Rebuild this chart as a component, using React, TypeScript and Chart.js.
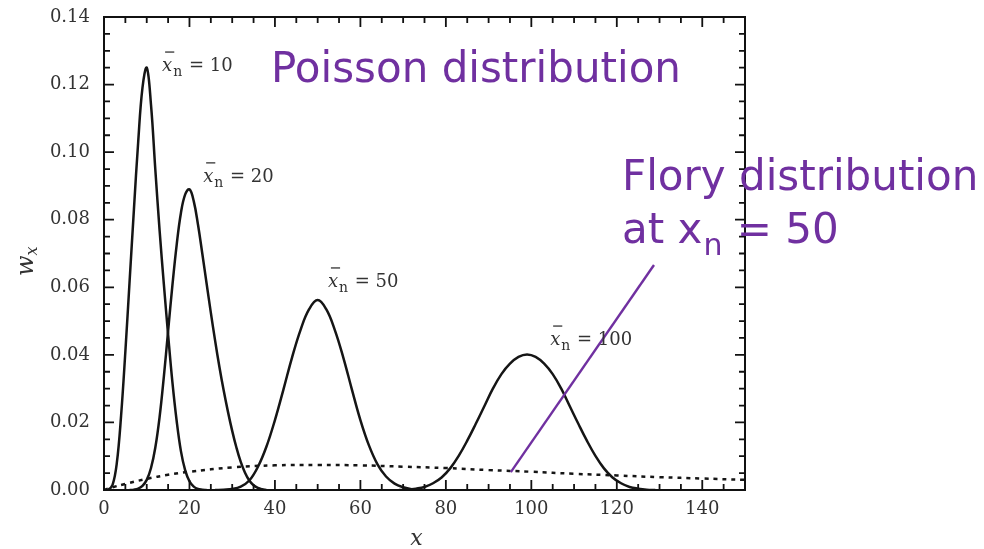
import React, { useEffect, useRef } from 'react';
import { Chart, registerables } from 'chart.js';

Chart.register(...registerables);

// ---- axes ----
const X_MIN = 0;
const X_MAX = 150;
const Y_MIN = 0;
const Y_MAX = 0.14;
const xTickValues = [0, 20, 40, 60, 80, 100, 120, 140];
const yTickValues = [0, 0.02, 0.04, 0.06, 0.08, 0.1, 0.12, 0.14];
const xMinorStep = 5;
const yMinorStep = 0.005;

// ---- Poisson weight distributions ----
const poisson10X = [0, 1, 2, 3, 4, 5, 6, 7, 8, 9, 10, 11, 12, 13, 14, 15, 16, 17, 18, 19, 20, 21, 22, 23, 24];
const poisson10Y = [0, 0.0001, 0.0015, 0.008, 0.022, 0.041, 0.062, 0.083, 0.103, 0.119, 0.125, 0.114, 0.095, 0.077, 0.061, 0.046, 0.032, 0.0205, 0.0115, 0.0058, 0.0026, 0.001, 0.0003, 0.0001, 0];

const poisson20X = [6, 7, 8, 9, 10, 11, 12, 13, 14, 15, 16, 17, 18, 19, 20, 21, 22, 23, 24, 25, 26, 27, 28, 29, 30, 31, 32, 33, 34, 35, 36, 37, 38];
const poisson20Y = [0, 0.0001, 0.0004, 0.0012, 0.003, 0.0065, 0.0125, 0.0215, 0.0335, 0.047, 0.0605, 0.0725, 0.082, 0.0875, 0.089, 0.0855, 0.0785, 0.07, 0.0612, 0.0525, 0.0442, 0.0365, 0.0295, 0.0232, 0.0175, 0.0125, 0.0083, 0.0051, 0.0028, 0.0014, 0.0006, 0.0002, 0];

const poisson50X = [26, 28, 30, 32, 34, 36, 38, 40, 42, 44, 46, 48, 50, 52, 54, 56, 58, 60, 62, 64, 66, 68, 70, 72, 74];
const poisson50Y = [0, 0.0001, 0.0003, 0.001, 0.0028, 0.0068, 0.0128, 0.0207, 0.0298, 0.0392, 0.0474, 0.0535, 0.0562, 0.0535, 0.0474, 0.0392, 0.0298, 0.0207, 0.0132, 0.0076, 0.004, 0.0019, 0.0008, 0.0002, 0];

const poisson100X = [69, 71, 73, 75, 77, 79, 81, 83, 85, 87, 89, 91, 93, 95, 97, 99, 101, 103, 105, 107, 109, 111, 113, 115, 117, 119, 121, 123, 125, 127, 129];
const poisson100Y = [0, 0.0001, 0.0004, 0.0009, 0.002, 0.0037, 0.0064, 0.0101, 0.0146, 0.0196, 0.0248, 0.03, 0.0343, 0.0374, 0.0394, 0.0401, 0.0394, 0.0374, 0.0343, 0.03, 0.0248, 0.0196, 0.0146, 0.0101, 0.0064, 0.0037, 0.002, 0.0009, 0.0004, 0.0001, 0];

// ---- Flory distribution at x_n = 50 (dotted) ----
const floryX = [0, 2, 5, 10, 15, 20, 30, 40, 50, 60, 70, 80, 90, 100, 110, 120, 130, 140, 150];
const floryY = [0, 0.0008, 0.0018, 0.0033, 0.0045, 0.0054, 0.0067, 0.0073, 0.0074, 0.0073, 0.0069, 0.0065, 0.0059, 0.0054, 0.0048, 0.0043, 0.0038, 0.0034, 0.003];

// ---- purple pointer line ----
const pointerX = [95.2, 128.7];
const pointerY = [0.0053, 0.0666];

// ---- labels ----
const curveLabelValues = ['10', '20', '50', '100'];
const curveLabelAnchorX = [13.6, 23.2, 52.4, 104.4];
const curveLabelAnchorY = [0.124, 0.0912, 0.0601, 0.0429];
const poissonTitle = 'Poisson distribution';
const floryLine1 = 'Flory distribution';
const floryLine2Start = 'at x';
const floryLine2Sub = 'n';
const floryLine2End = ' = 50';
const yAxisTitle = 'w';
const yAxisSub = 'x';
const xAxisTitle = 'x';

const PURPLE = '#7030A0';
const INK = '#151515';
const LABEL_INK = '#333';
const SERIF = '"DejaVu Serif", "Liberation Serif", serif';
const SANS = '"DejaVu Sans", Verdana, sans-serif';

const toPts = (xs: number[], ys: number[]) => xs.map((x, i) => ({ x, y: ys[i] }));

const framePlugin = {
  id: 'frameTicks',
  afterDatasetsDraw(chart: any) {
    const { ctx, chartArea, scales } = chart;
    const xs = scales.x;
    const ys = scales.y;
    ctx.save();
    ctx.strokeStyle = '#111';
    ctx.lineWidth = 2;
    ctx.strokeRect(chartArea.left, chartArea.top, chartArea.right - chartArea.left, chartArea.bottom - chartArea.top);
    ctx.lineWidth = 1.8;
    ctx.beginPath();
    const nx = Math.round((X_MAX - X_MIN) / xMinorStep);
    for (let i = 1; i < nx; i++) {
      const v = X_MIN + i * xMinorStep;
      const major = xTickValues.some((t) => Math.abs(t - v) < 1e-9);
      const len = major ? 10 : 6;
      const px = xs.getPixelForValue(v);
      ctx.moveTo(px, chartArea.bottom);
      ctx.lineTo(px, chartArea.bottom - len);
      ctx.moveTo(px, chartArea.top);
      ctx.lineTo(px, chartArea.top + len);
    }
    const ny = Math.round((Y_MAX - Y_MIN) / yMinorStep);
    for (let i = 1; i < ny; i++) {
      const v = Y_MIN + i * yMinorStep;
      const major = yTickValues.some((t) => Math.abs(t - v) < 1e-9);
      const len = major ? 10 : 6;
      const py = ys.getPixelForValue(v);
      ctx.moveTo(chartArea.left, py);
      ctx.lineTo(chartArea.left + len, py);
      ctx.moveTo(chartArea.right, py);
      ctx.lineTo(chartArea.right - len, py);
    }
    ctx.stroke();
    ctx.restore();
  },
};

const textPlugin = {
  id: 'texts',
  afterDraw(chart: any) {
    const { ctx, scales, chartArea } = chart;
    const xs = scales.x;
    const ys = scales.y;
    ctx.save();
    ctx.textAlign = 'left';
    ctx.textBaseline = 'alphabetic';

    // curve labels  x̄n = ...
    curveLabelValues.forEach((val, i) => {
      const px = xs.getPixelForValue(curveLabelAnchorX[i]);
      const py = ys.getPixelForValue(curveLabelAnchorY[i]);
      ctx.fillStyle = LABEL_INK;
      ctx.strokeStyle = LABEL_INK;
      ctx.font = `italic 18px ${SERIF}`;
      ctx.fillText('x', px, py);
      const wx = ctx.measureText('x').width;
      ctx.lineWidth = 1.3;
      ctx.beginPath();
      ctx.moveTo(px + 3, py - 19);
      ctx.lineTo(px + wx + 2, py - 19);
      ctx.stroke();
      ctx.font = `14px ${SERIF}`;
      ctx.fillText('n', px + wx + 1, py + 5);
      const wn = ctx.measureText('n').width;
      ctx.font = `18px ${SERIF}`;
      ctx.fillText(' = ' + val, px + wx + wn + 2, py);
    });

    // y axis title
    ctx.save();
    ctx.translate(33, 262);
    ctx.rotate(-Math.PI / 2);
    ctx.fillStyle = LABEL_INK;
    ctx.font = `italic 24px ${SERIF}`;
    ctx.fillText(yAxisTitle, -14, 0);
    const ww = ctx.measureText(yAxisTitle).width;
    ctx.font = `italic 16px ${SERIF}`;
    ctx.fillText(yAxisSub, -14 + ww, 4);
    ctx.restore();

    // x axis title
    ctx.fillStyle = LABEL_INK;
    ctx.font = `italic 22px ${SERIF}`;
    ctx.textAlign = 'center';
    ctx.fillText(xAxisTitle, (chartArea.left + chartArea.right) / 2 - 8, 545);
    ctx.textAlign = 'left';

    // purple annotation texts
    ctx.fillStyle = PURPLE;
    ctx.font = `42px ${SANS}`;
    ctx.fillText(poissonTitle, 271, 82);
    ctx.fillText(floryLine1, 622, 190);
    ctx.fillText(floryLine2Start, 622, 243);
    const w1 = ctx.measureText(floryLine2Start).width;
    ctx.font = `30px ${SANS}`;
    ctx.fillText(floryLine2Sub, 622 + w1 + 1, 255);
    const w2 = ctx.measureText(floryLine2Sub).width;
    ctx.font = `42px ${SANS}`;
    ctx.fillText(floryLine2End, 622 + w1 + w2 + 2, 243);
    ctx.restore();
  },
};

export default function App() {
  const canvasRef = useRef<HTMLCanvasElement | null>(null);

  useEffect(() => {
    const canvas = canvasRef.current;
    if (!canvas) return;
    const curveStyle = {
      borderColor: INK,
      borderWidth: 2.5,
      pointRadius: 0,
      fill: false,
      tension: 0.4,
    };
    const chart = new Chart(canvas, {
      type: 'line',
      data: {
        datasets: [
          {
            label: 'pointer',
            data: toPts(pointerX, pointerY),
            borderColor: PURPLE,
            borderWidth: 2.4,
            pointRadius: 0,
            tension: 0,
            order: -1,
          },
          { label: 'xn=10', data: toPts(poisson10X, poisson10Y), ...curveStyle },
          { label: 'xn=20', data: toPts(poisson20X, poisson20Y), ...curveStyle },
          { label: 'xn=50', data: toPts(poisson50X, poisson50Y), ...curveStyle },
          { label: 'xn=100', data: toPts(poisson100X, poisson100Y), ...curveStyle },
          {
            label: 'Flory',
            data: toPts(floryX, floryY),
            borderColor: INK,
            borderWidth: 2.5,
            borderDash: [4, 5],
            pointRadius: 0,
            fill: false,
            tension: 0.4,
          },
        ],
      },
      options: {
        responsive: false,
        animation: false,
        devicePixelRatio: 1,
        layout: { padding: { left: 0, top: 17, right: 239, bottom: 0 } },
        plugins: { legend: { display: false }, tooltip: { enabled: false }, title: { display: false } },
        scales: {
          x: {
            type: 'linear',
            min: X_MIN,
            max: X_MAX,
            grid: { display: false, drawTicks: false },
            border: { display: false },
            afterBuildTicks: (scale: any) => {
              scale.ticks = xTickValues.map((value) => ({ value }));
            },
            afterFit: (scale: any) => {
              scale.height = 59;
              scale.paddingLeft = 0;
              scale.paddingRight = 0;
            },
            ticks: {
              autoSkip: false,
              maxRotation: 0,
              padding: 9,
              color: LABEL_INK,
              font: { family: SERIF, size: 18 },
              callback: (v: any) => String(v),
            },
          },
          y: {
            type: 'linear',
            min: Y_MIN,
            max: Y_MAX,
            grid: { display: false, drawTicks: false },
            border: { display: false },
            afterBuildTicks: (scale: any) => {
              scale.ticks = yTickValues.map((value) => ({ value }));
            },
            afterFit: (scale: any) => {
              scale.width = 104;
              scale.paddingTop = 0;
              scale.paddingBottom = 0;
            },
            ticks: {
              autoSkip: false,
              padding: 14,
              color: LABEL_INK,
              font: { family: SERIF, size: 18 },
              callback: (v: any) => Number(v).toFixed(2),
            },
          },
        },
      },
      plugins: [framePlugin, textPlugin],
    });
    return () => chart.destroy();
  }, []);

  return (
    <div style={{ position: 'absolute', left: 0, top: 0, width: 984, height: 549, background: '#fff' }}>
      <canvas ref={canvasRef} width={984} height={549} style={{ display: 'block', width: 984, height: 549 }} />
    </div>
  );
}
